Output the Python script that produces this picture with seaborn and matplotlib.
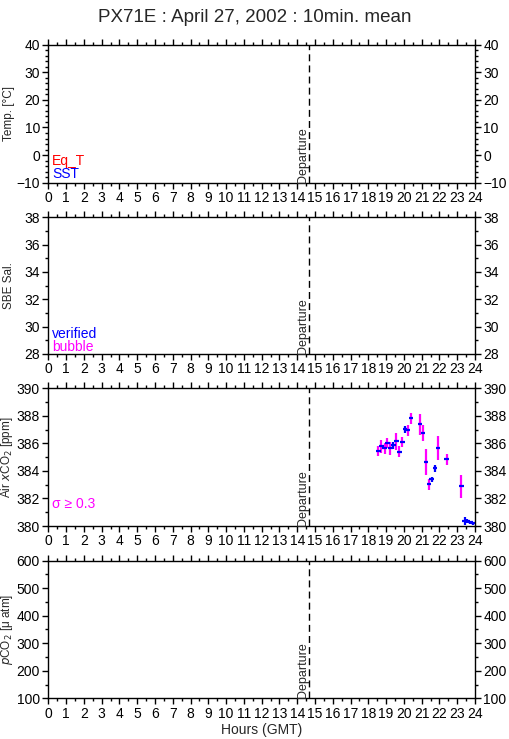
import numpy as np
import matplotlib
matplotlib.use("Agg")
import matplotlib.pyplot as plt
from matplotlib.ticker import MultipleLocator
import seaborn as sns

# 10 min means of atmospheric xCO2 (hours GMT)
hours = [18.57, 18.74, 18.91, 19.07, 19.24, 19.41, 19.57, 19.74, 19.91, 20.07,
         20.24, 20.41, 20.91, 21.07, 21.24, 21.41, 21.57, 21.74, 21.91, 22.41,
         23.24, 23.41, 23.57, 23.74, 23.91]
xco2 = [385.45, 385.79, 385.64, 386.03, 385.64, 385.86, 386.15, 385.38, 386.10, 387.02,
        386.95, 387.82, 387.38, 386.76, 384.65, 383.03, 383.41, 384.19, 385.64, 384.84,
        382.88, 380.39, 380.34, 380.27, 380.19]
sigma = [0.36, 0.46, 0.42, 0.36, 0.45, 0.24, 0.61, 0.40, 0.38, 0.24,
         0.42, 0.39, 0.74, 0.58, 0.91, 0.39, 0.18, 0.27, 0.88, 0.40,
         0.82, 0.28, 0.15, 0.12, 0.12]

departure = 14.67
ylabels = ["Temp. [°C]", "SBE Sal.", r"Air $x$CO$_2$ [ppm]", r"$p$CO$_2$ [μ atm]"]
ylims = [(-10, 40), (28, 38), (380, 390), (100, 600)]
ymajor = [10, 2, 2, 100]
yminor = [2, 1, 1, 50]

sns.set_style("ticks")
plt.rcParams["font.family"] = ["Liberation Sans", "DejaVu Sans"]
plt.rcParams["font.size"] = 10

fig = plt.figure(figsize=(5.09, 7.39), dpi=100)
bottoms = [0.7528, 0.5210, 0.2882, 0.0551]
heights = [0.1867, 0.1850, 0.1863, 0.1862]
axes = [fig.add_axes([0.0949, b, 0.8383, h]) for b, h in zip(bottoms, heights)]

for i, ax in enumerate(axes):
    ax.set_xlim(0, 24)
    ax.set_ylim(*ylims[i])
    ax.xaxis.set_major_locator(MultipleLocator(1))
    ax.xaxis.set_minor_locator(MultipleLocator(0.5))
    ax.yaxis.set_major_locator(MultipleLocator(ymajor[i]))
    ax.yaxis.set_minor_locator(MultipleLocator(yminor[i]))
    ax.tick_params(which="both", direction="out", top=True, right=True,
                   labelright=True, labeltop=False, colors="black", width=1,
                   labelsize=10, pad=2)
    ax.tick_params(which="major", length=4)
    ax.tick_params(which="minor", length=2.5)
    for s in ax.spines.values():
        s.set_visible(True)
        s.set_linewidth(1)
        s.set_color("black")
    ax.set_ylabel(ylabels[i], fontsize=8.5)
    ax.yaxis.set_label_coords(-0.078, 0.5)
    ax.axvline(departure, color="black", ls=(0, (5, 3)), lw=1)
    ax.text(departure - 0.02, ylims[i][0], "Departure", rotation=90,
            ha="right", va="bottom", fontsize=9)

axes[0].text(0.2, -3.5, "Eq_T", color="red", fontsize=10)
axes[0].text(0.2, -8.3, "SST", color="blue", fontsize=10)
axes[1].text(0.2, 29.2, "verified", color="blue", fontsize=10)
axes[1].text(0.2, 28.25, "bubble", color="magenta", fontsize=10)
axes[2].text(0.2, 381.3, "σ ≥ 0.3", color="magenta", fontsize=10)

# air xCO2 with error bars
ax = axes[2]
h = np.array(hours)
v = np.array(xco2)
s = np.array(sigma)
big = s >= 0.3
ax.errorbar(h[big], v[big], yerr=s[big], fmt="none", ecolor="magenta", elinewidth=1.6)
ax.errorbar(h[~big], v[~big], yerr=s[~big], fmt="none", ecolor="blue", elinewidth=1.6)
ax.errorbar(h, v, xerr=0.13, fmt="none", ecolor="blue", elinewidth=1.6)

axes[3].set_xlabel("Hours (GMT)", fontsize=10, labelpad=2)
fig.suptitle("PX71E : April 27, 2002 : 10min. mean", fontsize=13.5, y=0.988)

fig.savefig("out.png", dpi=100)
